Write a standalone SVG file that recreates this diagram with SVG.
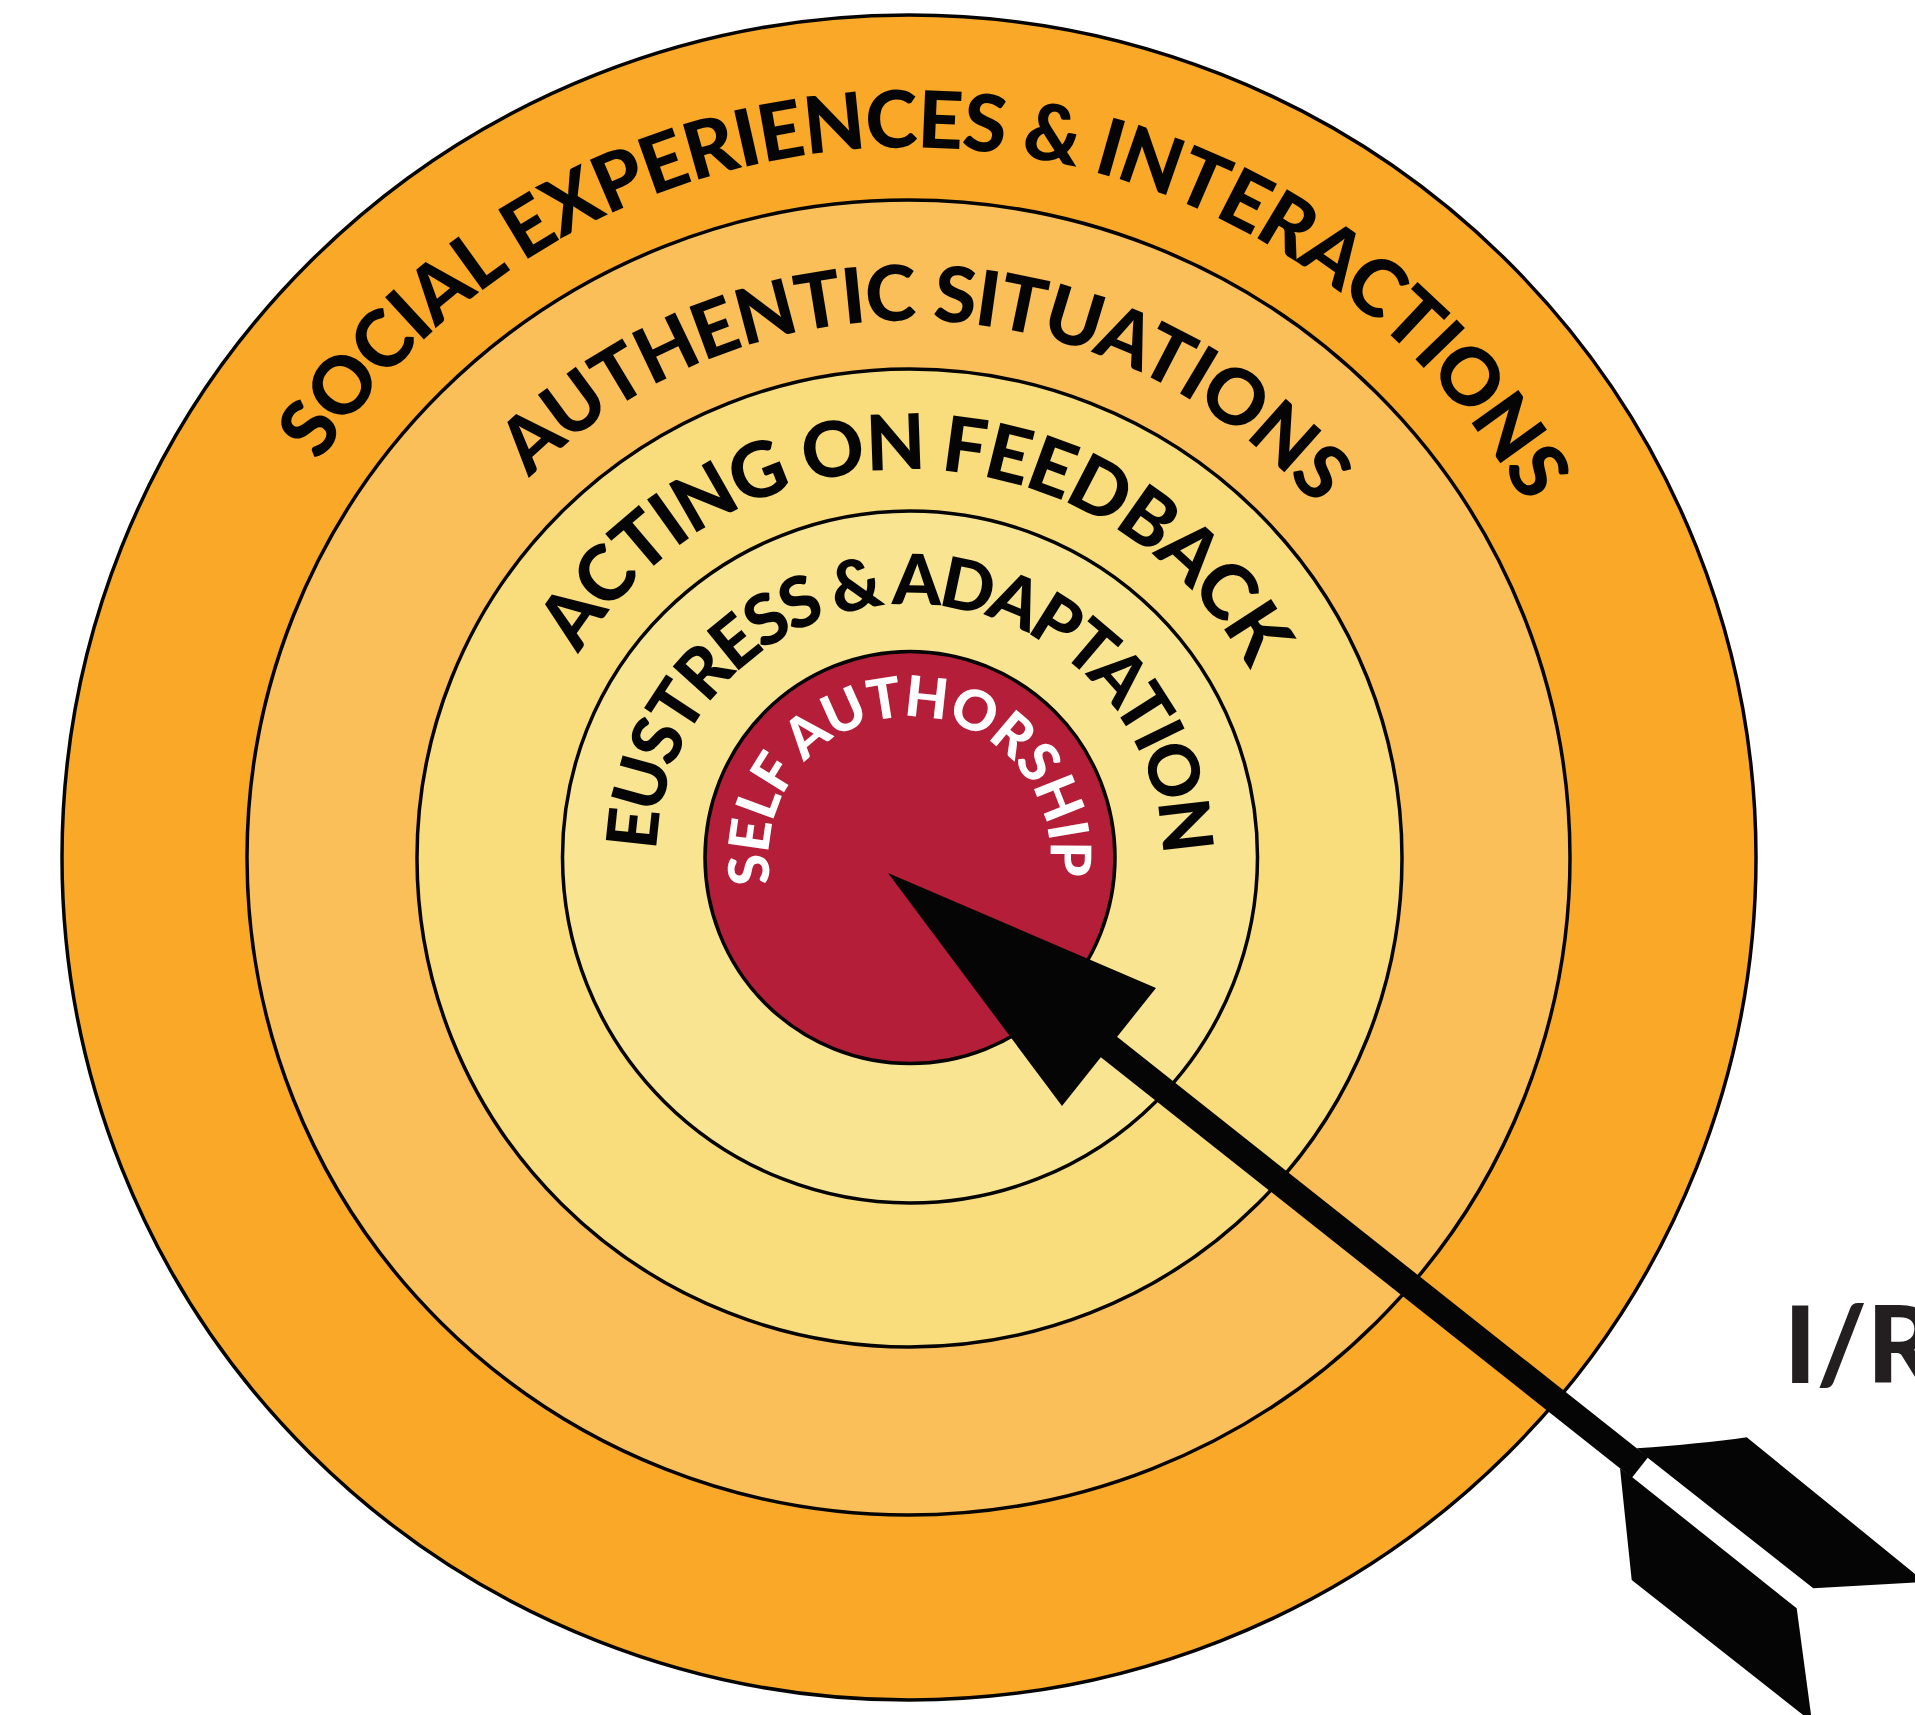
<svg xmlns="http://www.w3.org/2000/svg" width="1915" height="1715" viewBox="0 0 1915 1715">
<style>
.ring{stroke:#050505;stroke-width:3.5}
.lbl{font-family:Lato,"Open Sans",sans-serif;font-weight:900;fill:#050505}
.lblw{font-family:Lato,"Open Sans",sans-serif;font-weight:900;fill:#ffffff}
.ink{fill:#050505}
</style>
<defs>
<path id="p1" d="M909.5,1567.5 A710,710 0 1 1 909.5,147.5 A710,710 0 1 1 909.5,1567.5"/>
<path id="p2" d="M909.5,1394.5 A537,537 0 1 1 909.5,320.5 A537,537 0 1 1 909.5,1394.5"/>
<path id="p3" d="M909.5,1245.5 A388,388 0 1 1 909.5,469.5 A388,388 0 1 1 909.5,1245.5"/>
<path id="p4" d="M909.5,1110.5 A253,253 0 1 1 909.5,604.5 A253,253 0 1 1 909.5,1110.5"/>
<path id="p5" d="M909.5,998.5 A141,141 0 1 1 909.5,716.5 A141,141 0 1 1 909.5,998.5"/>
</defs>
<rect width="1915" height="1715" fill="#ffffff"/>
<g id="ring-social">
<ellipse class="ring" cx="909" cy="857.5" rx="847" ry="842.5" fill="#F9A828"/>
</g>
<g id="ring-authentic">
<ellipse class="ring" cx="908.5" cy="857.5" rx="661.5" ry="657.5" fill="#FBBF5A"/>
</g>
<g id="ring-feedback">
<ellipse class="ring" cx="909.5" cy="858" rx="492.5" ry="489" fill="#F9DC7B"/>
</g>
<g id="ring-eustress">
<ellipse class="ring" cx="910" cy="857" rx="347.5" ry="346" fill="#F9E492"/>
</g>
<g id="core-self-authorship">
<ellipse class="ring" cx="910" cy="857.5" rx="205" ry="206" fill="#B41E38"/>
</g>
<g id="labels">
<text class="lbl" font-size="79"><textPath href="#p1" startOffset="1534" textLength="1442" lengthAdjust="spacing">SOCIAL EXPERIENCES &amp; INTERACTIONS</textPath></text>
<text class="lbl" font-size="77"><textPath href="#p2" startOffset="1265" textLength="883" lengthAdjust="spacing">AUTHENTIC SITUATIONS</textPath></text>
<text class="lbl" font-size="77"><textPath href="#p3" startOffset="823" textLength="809" lengthAdjust="spacing">ACTING ON FEEDBACK</textPath></text>
<text class="lbl" font-size="70"><textPath href="#p4" startOffset="404" textLength="786" lengthAdjust="spacing">EUSTRESS &amp; ADAPTATION</textPath></text>
<text class="lblw" font-size="56"><textPath href="#p5" startOffset="195" textLength="488" lengthAdjust="spacing">SELF AUTHORSHIP</textPath></text>
</g>
<g id="connectors">
<g id="arrow">
<line x1="1090" y1="1032" x2="1640" y2="1467.5" stroke="#050505" stroke-width="26"/>
<polygon class="ink" points="888,873 1156,988 1062,1106"/>
<path class="ink" d="M1636.7,1448.3 Q1700,1444 1746.7,1437.3 L1925,1582 L1813.3,1588.3 L1648.3,1458.3 Z"/>
<path class="ink" d="M1620,1468.3 L1631.7,1476.7 L1796.7,1608.3 L1812,1722 L1631.7,1580 Z"/>
</g>
</g>
<g id="ir-label">
<text x="1784" y="1383" font-family="Lato,'Open Sans',sans-serif" font-weight="900" font-size="107" fill="#231F20">I/R</text>
</g>
</svg>
